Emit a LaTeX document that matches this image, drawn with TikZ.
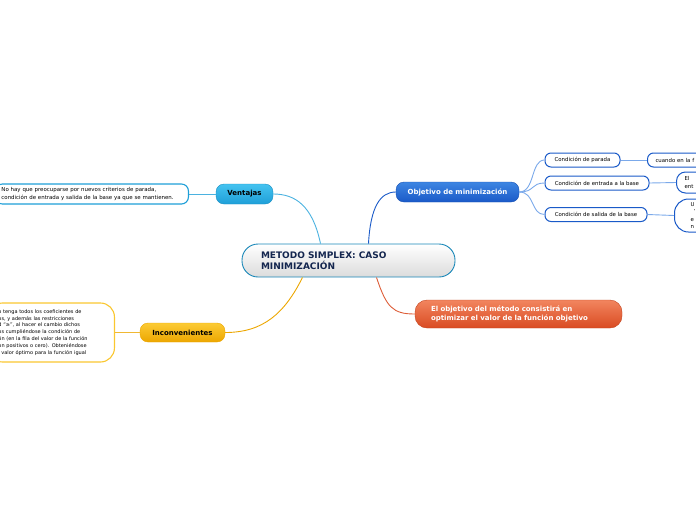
\documentclass[tikz,border=0pt]{standalone}
\usepackage{fontspec}
\setmainfont{DejaVu Sans}
\usepackage{tikz}
\usetikzlibrary{positioning}
\definecolor{navy}{HTML}{14264F}
\definecolor{sky}{HTML}{1E9FD8}
\definecolor{skylight}{HTML}{45C3F0}
\definecolor{royal}{HTML}{1A5AC8}
\definecolor{royallight}{HTML}{3D85E2}
\definecolor{amber}{HTML}{ECA600}
\definecolor{amberlight}{HTML}{FCCB35}
\definecolor{coral}{HTML}{D94B22}
\definecolor{corallight}{HTML}{F2855F}
\definecolor{paleblue}{HTML}{7BA9EA}
\tikzset{
  topic/.style={draw=sky!85!black,line width=0.9pt,rounded corners=16pt,top color=white,bottom color=gray!28,
                text=navy,font=\fontsize{9}{11.5}\selectfont\bfseries,align=left,text width=175pt,
                minimum width=213pt,minimum height=33pt,inner sep=0pt},
  branch/.style={rounded corners=8pt,font=\fontsize{7}{8}\selectfont\bfseries,align=center,
                 minimum height=20pt,inner sep=0pt},
  leaf/.style={draw=royal,line width=1pt,fill=white,rounded corners=6pt,font=\fontsize{5.4}{7}\selectfont,
               minimum height=14pt,inner sep=0pt},
  note/.style={line width=1.1pt,fill=white,font=\fontsize{5}{7}\selectfont,align=left,inner ysep=0pt},
  lnk/.style={line width=0.9pt},
}

\begin{document}
\begin{tikzpicture}[x=1pt,y=-1pt]
  \useasboundingbox (0,0) rectangle (696,520);
  \clip (0,0) rectangle (696,520);

  % central topic
  \node[topic] (main) at (348.5,260.5) {METODO SIMPLEX: CASO\\MINIMIZACIÓN};

  % main branches
  \node[branch,top color=skylight,bottom color=sky,draw=sky!90!black,minimum width=57pt] (vent) at (244.5,194) {Ventajas};
  \node[branch,top color=royallight,bottom color=royal,draw=royal!90!black,text=white,minimum width=123pt] (obj) at (457.5,192) {Objetivo de minimización};
  \node[branch,top color=amberlight,bottom color=amber,draw=amber,minimum width=85pt,minimum height=19pt] (inc) at (182.5,332.5) {Inconvenientes};
  \node[branch,top color=corallight,bottom color=coral,draw=coral!90!black,text=white,rounded corners=12pt,align=left,
        text width=175pt,minimum width=207pt,minimum height=28pt,font=\fontsize{7}{9.5}\selectfont\bfseries] (goal) at (518.5,314)
        {El objetivo del método consistirá en\\optimizar el valor de la función objetivo};

  % notes of the left branches
  \node[note,draw=sky,rounded corners=7pt,text width=181pt,inner xsep=6pt,minimum height=20pt,
        anchor=east,font=\fontsize{5.45}{7.8}\selectfont] (ventTxt) at (189,194)
        {No hay que preocuparse por nuevos criterios de parada,\\condición de entrada y salida de la base ya que se mantienen.};
  \node[note,draw=amberlight!90!amber,rounded corners=14pt,text width=106pt,inner xsep=10pt,minimum height=59pt,
        anchor=east,font=\fontsize{5}{6.9}\selectfont] (incTxt) at (115,332.5)
        {o tenga todos los coeficientes de\\os, y además las restricciones\\d “≥”, al hacer el cambio dichos\\os cumpliéndose la condición de\\ón (en la fila del valor de la función\\on positivos o cero). Obteniéndose\\\hspace*{3pt}valor óptimo para la función igual};

  % children of the objective
  \node[leaf,minimum width=75pt] (cpar) at (582.5,160) {Condición de parada};
  \node[leaf,minimum width=104pt] (cent) at (597,183) {Condición de entrada a la base};
  \node[leaf,minimum width=102pt] (csal) at (596,214.5) {Condición de salida de la base};
  \node[leaf,anchor=west,align=left,text width=80pt,inner xsep=8pt] (cparTxt) at (647,160) {cuando en la f};
  \node[leaf,anchor=west,align=left,text width=40pt,inner xsep=8pt,minimum height=21pt,rounded corners=9pt,
        font=\fontsize{5.4}{7.5}\selectfont] (centTxt) at (676,182.5) {El\\ent};
  \node[leaf,anchor=west,align=left,text width=40pt,inner xsep=16pt,minimum height=33pt,rounded corners=14pt,
        font=\fontsize{5.4}{7.3}\selectfont] (csalTxt) at (674,215.5) {U\\\hspace*{3pt}'\\e\\n};

  % connectors
  \draw[lnk,sky!80] ([xshift=-28pt]main.north) .. controls +(-8,-38) and +(22,0) .. (vent.east);
  \draw[lnk,royal] ([xshift=20pt]main.north) .. controls +(2,-36) and +(-16,0) .. (obj.west);
  \draw[lnk,amber] ([xshift=-46pt]main.south) .. controls +(-18,36) and +(38,0) .. (inc.east);
  \draw[lnk,coral!90] ([xshift=28pt]main.south) .. controls +(10,30) and +(-22,0) .. (goal.west);
  \draw[lnk,sky!80] (vent.west) -- (ventTxt.east);
  \draw[lnk,amber!80] (inc.west) -- (incTxt.east);
  \foreach \c in {cpar,cent,csal}{
    \draw[lnk,paleblue] (obj.east) .. controls +(16,0) and +(-14,0) .. (\c.west);
  }
  \draw[lnk,paleblue] (cpar.east) -- (cparTxt.west);
  \draw[lnk,paleblue] (cent.east) -- (centTxt.west);
  \draw[lnk,paleblue] (csal.east) -- (csalTxt.west);
\end{tikzpicture}
\end{document}
